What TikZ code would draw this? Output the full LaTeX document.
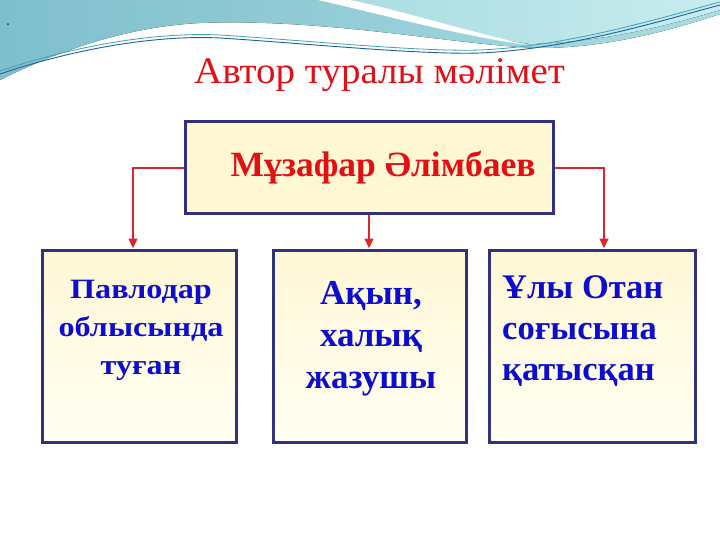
\documentclass[tikz,border=0pt]{standalone}
\usepackage{fontspec}
\setmainfont{Liberation Serif}
\newfontfamily\widefont[FakeStretch=1.15]{Liberation Serif}
\newfontfamily\titfont[FakeStretch=1.04]{Liberation Serif}
\usetikzlibrary{arrows.meta}
\definecolor{navy}{HTML}{30327E}
\definecolor{boxfill}{HTML}{FFF8D2}
\definecolor{boxtop}{HTML}{FFF8D6}
\definecolor{boxbot}{HTML}{FFFEF2}
\definecolor{conred}{HTML}{DC252C}
\definecolor{titred}{HTML}{E20F14}
\definecolor{txtblue}{HTML}{0D0DCF}
\definecolor{tealA}{HTML}{7FBFCD}
\definecolor{tealB}{HTML}{A9DCE2}
\definecolor{tealC}{HTML}{C8ECEE}
\definecolor{lineblue}{HTML}{1F5F9E}
\definecolor{lineteal}{HTML}{3AA3B8}
\begin{document}
\begin{tikzpicture}[x=1pt,y=-1pt,
  box/.style={draw=navy, line width=3pt, inner sep=0pt},
  conn/.style={draw=conred, line width=2.4pt, -{Triangle[length=10pt,width=8.5pt]}},
  bluetext/.style={text=txtblue, inner sep=0pt}]
\useasboundingbox (0,0) rectangle (720,540);
\fill[white] (0,0) rectangle (720,540);
% background waves
\fill[left color=tealA, right color=tealB]
  (0,0) -- (720,0) -- (720,14)
  .. controls (660,34) and (600,48) .. (540,48)
  .. controls (460,46) and (330,18) .. (200,23)
  .. controls (120,27) and (50,55) .. (0,80) -- cycle;
\fill[left color=tealB, right color=tealC]
  (335,0) -- (720,0) -- (720,10)
  .. controls (660,28) and (600,42) .. (530,44)
  .. controls (460,34) and (400,14) .. (335,0) -- cycle;
\fill[white]
  (318,0) .. controls (380,14) and (460,36) .. (528,45)
  .. controls (455,28) and (395,9) .. (350,0) -- cycle;
\draw[lineteal, line width=0.8pt]
  (0,71) .. controls (80,44) and (160,32) .. (220,35)
  .. controls (300,40) and (420,52) .. (480,50)
  .. controls (570,46) and (660,18) .. (720,2);
\draw[lineblue, line width=0.9pt]
  (0,74) .. controls (80,47) and (160,35) .. (220,38)
  .. controls (300,43) and (420,55) .. (480,53)
  .. controls (570,49) and (660,21) .. (720,5);
\node[text=lineblue, font=\fontsize{18}{18}\selectfont, inner sep=0pt, anchor=base] (dot) at (8,26) {.};
% title
\node[text=titred, font=\titfont\fontsize{37.5}{38}\selectfont, anchor=base, inner sep=0pt] (title) at (379.5,84) {Автор туралы мәлімет};
% boxes
\node[box, fill=boxfill, minimum width=368pt, minimum height=92pt,
      text=titred, font=\bfseries\fontsize{35.5}{36}\selectfont] (top) at (369,168)
      {\hspace*{28pt}Мұзафар Әлімбаев};
\node[box, top color=boxtop, bottom color=boxbot, minimum width=194pt, minimum height=192pt] (b1) at (139,346) {};
\node[box, top color=boxtop, bottom color=boxbot, minimum width=193pt, minimum height=192pt] (b2) at (369.5,346) {};
\node[box, top color=boxtop, bottom color=boxbot, minimum width=206pt, minimum height=192pt] (b3) at (592,346) {};
% box texts
\node[bluetext, align=center, anchor=north, font=\widefont\bfseries\fontsize{28}{38}\selectfont] (t1) at (141,280)
  {Павлодар\\облысында\\туған};
\node[bluetext, align=center, anchor=north, font=\bfseries\fontsize{35}{42}\selectfont] (t2) at (371,281)
  {Ақын,\\халық\\жазушы};
\node[bluetext, align=left, anchor=north west, font=\bfseries\fontsize{34.5}{41}\selectfont] (t3) at (502,275)
  {Ұлы Отан\\соғысына\\қатысқан};
% connectors
\draw[conn] (top.west) -| ([xshift=-6pt]b1.north);
\draw[conn] (top.south) -- (top.south |- b2.north);
\draw[conn] (top.east) -| ([xshift=12pt]b3.north);
\end{tikzpicture}
\end{document}
